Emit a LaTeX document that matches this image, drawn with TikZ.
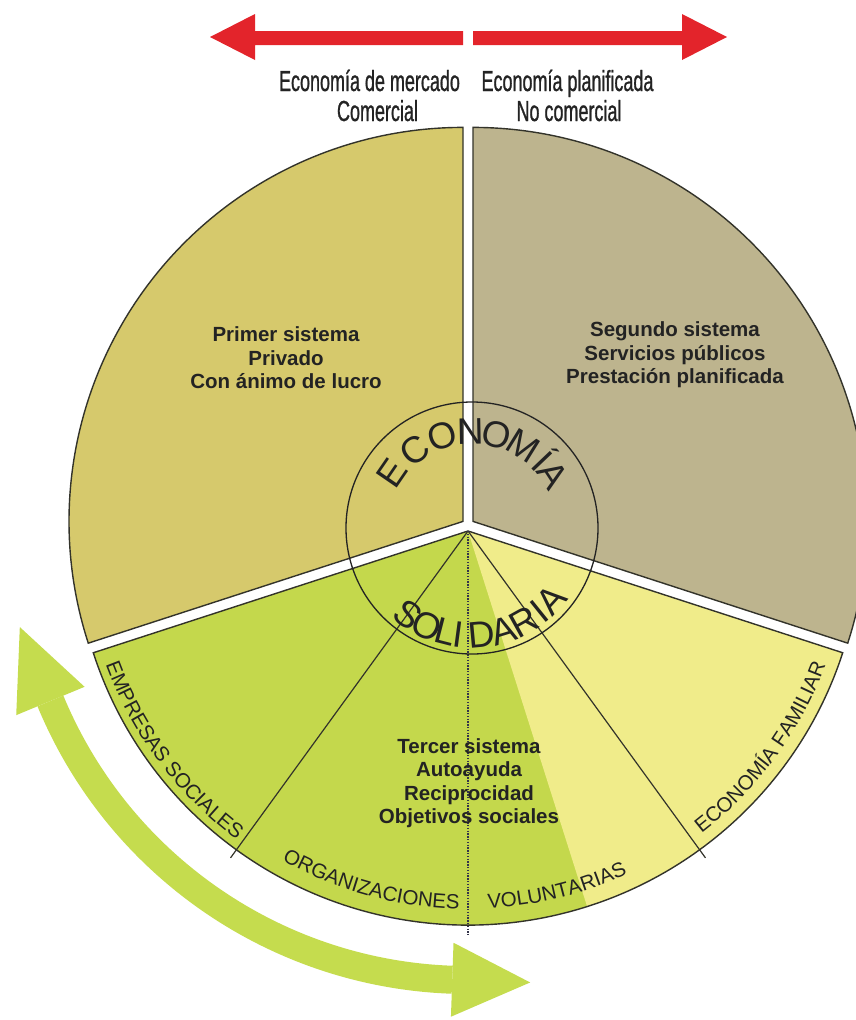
\documentclass[tikz,border=0pt]{standalone}
\usepackage{fontspec}
\setmainfont{Liberation Sans}
\newfontfamily\narrowfont[FakeStretch=0.62,FakeBold=0.9]{Liberation Sans}
\newfontfamily\labfont{Liberation Sans}
\usetikzlibrary{calc,decorations.text}
\definecolor{secL}{HTML}{D6C96C}
\definecolor{secR}{HTML}{BDB48E}
\definecolor{secG}{HTML}{C4D84C}
\definecolor{secY}{HTML}{F0EC8A}
\definecolor{edge}{HTML}{33332A}
\definecolor{redarrow}{HTML}{E3242B}
\definecolor{greenarrow}{HTML}{C5DC4E}
\definecolor{ink}{HTML}{232323}
\definecolor{dotc}{HTML}{34344A}
\begin{document}
\begin{tikzpicture}[x=1pt,y=1pt,
  sector/.style={draw=edge, line width=1.4pt, line join=miter},
  divline/.style={draw=edge, line width=1.2pt},
  dotline/.style={draw=dotc, line width=1.3pt, dash pattern=on 1.3pt off 1.5pt},
  toplabel/.style={font=\narrowfont\fontsize{29}{30}\selectfont, text=ink, anchor=base, inner sep=0pt},
  boldlabel/.style={font=\labfont\bfseries\fontsize{20.5}{23.5}\selectfont, text=ink, align=center},
  bigletter/.style={font=\labfont\fontsize{37}{37}\selectfont, text=ink, anchor=base, inner sep=0pt},
  arclabel/.style={decorate, decoration={text along path, text align=center, text color=ink,
      text={|\labfont\fontsize{20.5}{20.5}\selectfont|#1}}}
]
\useasboundingbox (0,0) rectangle (856,-1020);
\clip (0,0) rectangle (856,-1020);

% centres
\coordinate (cL) at (463,-521.4);
\coordinate (cR) at (473,-521.4);
\coordinate (cB) at (468,-531);
\coordinate (ci) at (472,-528);
\coordinate (ca) at (468,-528);

% sectors
\path[sector, fill=secL] (cL) -- ++(90:394) arc[start angle=90, end angle=198, radius=394] -- cycle;
\path[sector, fill=secR] (cR) -- ++(-18:394) arc[start angle=-18, end angle=90, radius=394] -- cycle;
\fill[secG] (cB) -- ++(198:394) arc[start angle=198, end angle=342, radius=394] -- cycle;
\fill[secY] (cB) -- ++(287.6:394) arc[start angle=287.6, end angle=342, radius=394] -- cycle;
\path[sector] (cB) -- ++(198:394) arc[start angle=198, end angle=342, radius=394] -- cycle;

% inner division lines of the third system
\coordinate (lA) at ($(cB)+(234:404)$);
\coordinate (lB) at ($(cB)+(306:404)$);
\coordinate (lD) at (468,-935);
\draw[divline] (cB) -- (lA);
\draw[divline] (cB) -- (lB);
\draw[dotline] (cB) -- (lD);

% inner circle
\draw[draw=ink, line width=1.3pt] (ci) circle[radius=126];

% curved words
\foreach \a/\l [count=\i] in {145.5/E,126.2/C,108/O,91.1/N,75.4/O,58.2/M,43.6/Í,33.2/A}
  \node[bigletter, rotate=\a-90] (eco\i) at ($(ci)+(\a:84)$) {\l};
\foreach \a/\l [count=\i] in {233.6/S,245.3/O,255.6/L,262.5/I,275.3/D,287.2/A,299/R,308.8/I,317.9/A}
  \node[bigletter, rotate=\a+90] (sol\i) at ($(ci)+(\a:120)$) {\l};

% arc labels
\path[arclabel={EMPRESAS SOCIALES}] (cB) ++(196.7:386) arc[start angle=196.7, end angle=236.7, radius=386];
\path[arclabel={ORGANIZACIONES}] (cB) ++(234.6:378) arc[start angle=234.6, end angle=274.6, radius=378];
\path[arclabel={VOLUNTARIAS}] (cB) ++(264:378) arc[start angle=264, end angle=304, radius=378];
\path[arclabel={ECONOMÍA FAMILIAR}] (cB) ++(303.6:382) arc[start angle=303.6, end angle=343.6, radius=382];

% bold texts
\node[boldlabel] (primer) at (286,-358) {Primer sistema\\Privado\\Con ánimo de lucro};
\node[boldlabel] (segundo) at (675,-355) {Segundo sistema\\Servicios públicos\\Prestación planificada};
\node[boldlabel] (tercer) at (469,-783) {Tercer sistema\\Autoayuda\\Reciprocidad\\Objetivos sociales};

% red arrows
\fill[redarrow] (463,-31) -- (255,-31) -- (255,-14) -- (210,-37) -- (255,-60) -- (255,-45) -- (463,-45) -- cycle;
\fill[redarrow] (473,-31) -- (682,-31) -- (682,-14) -- (727,-37) -- (682,-60) -- (682,-45) -- (473,-45) -- cycle;

% top labels
\node[toplabel] (mercado) at (369.5,-91) {Economía de mercado};
\node[toplabel] (comercial) at (377.5,-121) {Comercial};
\node[toplabel] (planif) at (567.5,-91) {Economía planificada};
\node[toplabel] (nocom) at (569,-121) {No comercial};

% green double arrow
\draw[greenarrow, line width=28pt] (ca) ++(202.5:452) arc[start angle=202.5, end angle=268, radius=452];
\fill[greenarrow] ($(ca)+(202.5:489)$) -- ($(ca)+(202.5:452)+(112.5:80)$) -- ($(ca)+(202.5:415)$) -- cycle;
\fill[greenarrow] ($(ca)+(268:489)$) -- ($(ca)+(268:452)+(358:78)$) -- ($(ca)+(268:415)$) -- cycle;
\end{tikzpicture}
\end{document}
